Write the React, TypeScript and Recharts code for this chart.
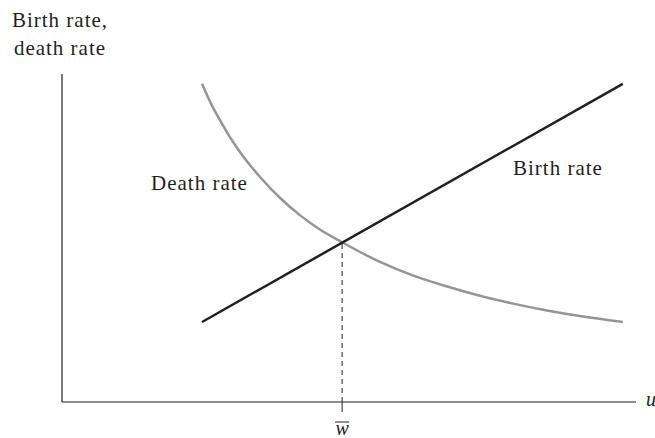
import { ComposedChart, Line, XAxis, YAxis } from "recharts";

// abstract units: both axes run 0..10
const birthX = [2.44, 9.77];
const birthY = [2.44, 9.7];

const deathX = [2.44, 2.6, 2.75, 2.92, 3.1, 3.45, 3.8, 4.15, 4.5, 4.88, 5.54, 6.11, 6.71, 7.28, 7.86, 8.45, 9.02, 9.77];
const deathY = [9.7, 9.08, 8.6, 8.09, 7.62, 6.86, 6.22, 5.69, 5.25, 4.87, 4.27, 3.86, 3.52, 3.24, 3.0, 2.79, 2.62, 2.44];

const wBar = 4.88;
const wBarY = 4.87;

const ink = "#231f20";
const serif = '"Liberation Serif", "Times New Roman", serif';

const birth = birthX.map((x, i) => ({ x, y: birthY[i] }));
const death = deathX.map((x, i) => ({ x, y: deathY[i] }));
const drop = [
  { x: wBar, y: 0 },
  { x: wBar, y: wBarY },
];

function WTick(props: any) {
  const { x, y } = props;
  return (
    <g>
      <line x1={x - 7} x2={x + 7} y1={y + 8} y2={y + 8} stroke={ink} strokeWidth={1} />
      <text
        x={x}
        y={y + 21}
        textAnchor="middle"
        fontFamily={serif}
        fontStyle="italic"
        fontSize={20}
        fill={ink}
      >
        w
      </text>
    </g>
  );
}

const txt = {
  position: "absolute" as const,
  fontFamily: serif,
  fontSize: 21,
  lineHeight: "21px",
  letterSpacing: 1,
  color: ink,
  whiteSpace: "nowrap" as const,
};

export default function App() {
  return (
    <div style={{ position: "absolute", left: 0, top: 0, width: 655, height: 438, background: "#fff" }}>
      <ComposedChart
        width={655}
        height={438}
        margin={{ top: 74, right: 19, bottom: 0, left: 0 }}
      >
        <XAxis
          type="number"
          dataKey="x"
          domain={[0, 10]}
          ticks={[wBar]}
          tickSize={10}
          tickLine={{ stroke: ink }}
          axisLine={{ stroke: ink, strokeWidth: 1.2 }}
          tick={<WTick />}
          height={36}
          allowDataOverflow
        />
        <YAxis
          type="number"
          dataKey="y"
          domain={[0, 10]}
          width={62}
          tick={false}
          tickLine={false}
          axisLine={{ stroke: ink, strokeWidth: 1.2 }}
          allowDataOverflow
        />
        <Line
          data={drop}
          dataKey="y"
          type="linear"
          stroke={ink}
          strokeWidth={1}
          strokeDasharray="5 4"
          dot={false}
          isAnimationActive={false}
        />
        <Line
          data={death}
          dataKey="y"
          type="monotone"
          stroke="#939598"
          strokeWidth={2.5}
          dot={false}
          isAnimationActive={false}
        />
        <Line
          data={birth}
          dataKey="y"
          type="linear"
          stroke={ink}
          strokeWidth={2.5}
          dot={false}
          isAnimationActive={false}
        />
      </ComposedChart>
      <div style={{ ...txt, left: 0, top: 6, width: 120, textAlign: "center", lineHeight: "28px" }}>
        Birth rate,
        <br />
        death rate
      </div>
      <div style={{ ...txt, left: 151, top: 173 }}>Death rate</div>
      <div style={{ ...txt, left: 513, top: 158 }}>Birth rate</div>
      <div style={{ ...txt, left: 646, top: 389, fontSize: 20, fontStyle: "italic", letterSpacing: 0 }}>u</div>
    </div>
  );
}
